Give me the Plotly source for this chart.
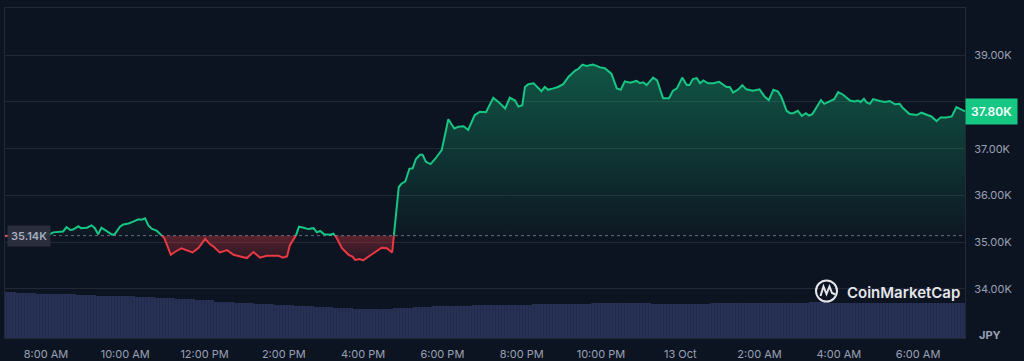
import plotly.graph_objects as go
import numpy as np
import pandas as pd

# ---------------- data ----------------
TIMES = [
    "10-12 06:58", "10-12 07:21", "10-12 07:43", "10-12 08:06", "10-12 08:11", "10-12 08:26", "10-12 08:31",
    "10-12 08:37", "10-12 08:41", "10-12 08:49", "10-12 08:53", "10-12 09:02", "10-12 09:09", "10-12 09:14",
    "10-12 09:19", "10-12 09:24", "10-12 09:32", "10-12 09:40", "10-12 09:44", "10-12 09:52", "10-12 09:57",
    "10-12 10:05", "10-12 10:12", "10-12 10:20", "10-12 10:25", "10-12 10:30", "10-12 10:35", "10-12 10:40",
    "10-12 10:48", "10-12 10:59", "10-12 11:09", "10-12 11:15", "10-12 11:25", "10-12 11:33", "10-12 11:42",
    "10-12 11:51", "10-12 12:01", "10-12 12:08", "10-12 12:14", "10-12 12:23", "10-12 12:34", "10-12 12:44",
    "10-12 13:04", "10-12 13:14", "10-12 13:24", "10-12 13:34", "10-12 13:52", "10-12 13:59", "10-12 14:05",
    "10-12 14:09", "10-12 14:17", "10-12 14:23", "10-12 14:30", "10-12 14:37", "10-12 14:45", "10-12 14:50",
    "10-12 14:55", "10-12 15:01", "10-12 15:10", "10-12 15:15", "10-12 15:20", "10-12 15:28", "10-12 15:38",
    "10-12 15:44", "10-12 15:48", "10-12 15:55", "10-12 16:00", "10-12 16:10", "10-12 16:21", "10-12 16:28",
    "10-12 16:36", "10-12 16:44", "10-12 16:54", "10-12 16:58", "10-12 17:04", "10-12 17:10", "10-12 17:15",
    "10-12 17:20", "10-12 17:26", "10-12 17:30", "10-12 17:35", "10-12 17:42", "10-12 17:49", "10-12 17:59",
    "10-12 18:09", "10-12 18:18", "10-12 18:24", "10-12 18:32", "10-12 18:39", "10-12 18:49", "10-12 18:57",
    "10-12 19:06", "10-12 19:17", "10-12 19:27", "10-12 19:35", "10-12 19:42", "10-12 19:50", "10-12 19:55",
    "10-12 20:01", "10-12 20:05", "10-12 20:10", "10-12 20:18", "10-12 20:30", "10-12 20:35", "10-12 20:40",
    "10-12 20:48", "10-12 20:55", "10-12 21:03", "10-12 21:11", "10-12 21:21", "10-12 21:26", "10-12 21:32",
    "10-12 21:38", "10-12 21:48", "10-12 21:59", "10-12 22:06", "10-12 22:16", "10-12 22:24", "10-12 22:30",
    "10-12 22:36", "10-12 22:44", "10-12 22:54", "10-12 22:59", "10-12 23:04", "10-12 23:09", "10-12 23:19",
    "10-12 23:25", "10-12 23:34", "10-12 23:43", "10-12 23:49", "10-12 23:55", "10-13 00:03", "10-13 00:10",
    "10-13 00:14", "10-13 00:19", "10-13 00:25", "10-13 00:30", "10-13 00:35", "10-13 00:42", "10-13 00:50",
    "10-13 00:59", "10-13 01:10", "10-13 01:15", "10-13 01:20", "10-13 01:28", "10-13 01:34", "10-13 01:40",
    "10-13 01:50", "10-13 02:00", "10-13 02:08", "10-13 02:14", "10-13 02:21", "10-13 02:28", "10-13 02:33",
    "10-13 02:41", "10-13 02:46", "10-13 02:51", "10-13 02:58", "10-13 03:04", "10-13 03:10", "10-13 03:15",
    "10-13 03:20", "10-13 03:26", "10-13 03:33", "10-13 03:38", "10-13 03:45", "10-13 03:53", "10-13 03:59",
    "10-13 04:06", "10-13 04:17", "10-13 04:24", "10-13 04:29", "10-13 04:33", "10-13 04:38", "10-13 04:42",
    "10-13 04:47", "10-13 04:52", "10-13 05:02", "10-13 05:10", "10-13 05:17", "10-13 05:25", "10-13 05:32",
    "10-13 05:37", "10-13 05:47", "10-13 05:58", "10-13 06:05", "10-13 06:15", "10-13 06:20", "10-13 06:28",
    "10-13 06:34", "10-13 06:43", "10-13 06:51", "10-13 06:58", "10-13 07:06", "10-13 07:11",
]
PRICES = [  # thousands of JPY
    35.13, 35.15, 35.16, 35.17, 35.21, 35.23, 35.32,
    35.26, 35.27, 35.34, 35.30, 35.31, 35.36, 35.30,
    35.17, 35.31, 35.23, 35.16, 35.17, 35.33, 35.38,
    35.40, 35.44, 35.49, 35.48, 35.51, 35.36, 35.29,
    35.24, 35.09, 34.73, 34.79, 34.87, 34.83, 34.78,
    34.88, 35.07, 34.96, 34.90, 34.78, 34.83, 34.73,
    34.66, 34.79, 34.67, 34.71, 34.71, 34.67, 34.70,
    34.93, 35.09, 35.33, 35.31, 35.28, 35.30, 35.21,
    35.24, 35.17, 35.16, 35.18, 35.09, 34.87, 34.73,
    34.69, 34.62, 34.64, 34.61, 34.71, 34.81, 34.88,
    34.87, 34.78, 36.18, 36.25, 36.30, 36.57, 36.58,
    36.78, 36.87, 36.87, 36.72, 36.67, 36.78, 36.97,
    37.63, 37.43, 37.47, 37.48, 37.40, 37.72, 37.79,
    37.78, 38.09, 37.97, 37.86, 38.09, 38.03, 37.90,
    37.93, 38.32, 38.38, 38.40, 38.23, 38.32, 38.26,
    38.29, 38.32, 38.38, 38.54, 38.67, 38.71, 38.80,
    38.77, 38.80, 38.74, 38.72, 38.60, 38.29, 38.26,
    38.44, 38.41, 38.45, 38.40, 38.42, 38.36, 38.52,
    38.46, 38.08, 38.08, 38.24, 38.29, 38.52, 38.36,
    38.36, 38.49, 38.51, 38.40, 38.46, 38.40, 38.40,
    38.43, 38.32, 38.32, 38.20, 38.27, 38.36, 38.27,
    38.24, 38.27, 38.11, 38.04, 38.26, 38.22, 38.11,
    37.81, 37.76, 37.76, 37.81, 37.70, 37.76, 37.71,
    37.74, 37.89, 38.04, 37.96, 38.00, 38.06, 38.21,
    38.16, 38.03, 38.01, 38.03, 38.00, 38.07, 37.99,
    37.96, 38.06, 38.02, 38.00, 38.02, 37.95, 37.96,
    37.87, 37.74, 37.72, 37.77, 37.72, 37.69, 37.59,
    37.67, 37.67, 37.69, 37.89, 37.83, 37.80,
]
OPEN_PRICE = 35.14
LAST_PRICE = 37.80

VOLUME_START = "2024-10-12 07:00"   # 30-minute bars
VOLUME = [
    2.28, 2.25, 2.22, 2.19, 2.16, 2.12, 2.08, 2.03, 1.98, 1.93,
    1.88, 1.82, 1.77, 1.71, 1.64, 1.59, 1.54, 1.49, 1.46, 1.43,
    1.48, 1.54, 1.58, 1.61, 1.64, 1.66, 1.67, 1.68, 1.69, 1.71,
    1.75, 1.76, 1.75, 1.72, 1.71, 1.72, 1.73, 1.73, 1.74, 1.75,
    1.76, 1.78, 1.77, 1.74, 1.73, 1.73, 1.73, 1.73, 1.73,
]

Y_TICKS = [34, 35, 36, 37, 38, 39]
Y_TICK_TEXT = ["34.00K", "35.00K", "36.00K", "37.00K", "", "39.00K"]
X_TICKS = ["2024-10-12 08:00", "2024-10-12 10:00", "2024-10-12 12:00", "2024-10-12 14:00",
           "2024-10-12 16:00", "2024-10-12 18:00", "2024-10-12 20:00", "2024-10-12 22:00",
           "2024-10-13 00:00", "2024-10-13 02:00", "2024-10-13 04:00", "2024-10-13 06:00"]
X_TICK_TEXT = ["8:00 AM", "10:00 AM", "12:00 PM", "2:00 PM", "4:00 PM", "6:00 PM",
               "8:00 PM", "10:00 PM", "13 Oct", "2:00 AM", "4:00 AM", "6:00 AM"]
X_RANGE = ["2024-10-12 06:58", "2024-10-13 07:11"]

# ---------------- styles ----------------
BG = "#0d1421"
GRID = "rgba(255,255,255,0.09)"
TXT = "#9aa1b5"
GREEN = "#16c784"
RED = "#ea3943"
VOL = "#273055"

# ---------------- processing ----------------
t = pd.to_datetime(["2024-" + s for s in TIMES])
p = np.array(PRICES, dtype=float)
tn = t.asi8.astype(float)
base = OPEN_PRICE

xs, ys = [tn[0]], [p[0]]
for i in range(1, len(p)):
    a, b = p[i - 1] - base, p[i] - base
    if a * b < 0:
        f = a / (a - b)
        xs.append(tn[i - 1] + f * (tn[i] - tn[i - 1]))
        ys.append(base)
    xs.append(tn[i])
    ys.append(p[i])
xt = pd.to_datetime(np.array(xs).astype("int64"))
ys = np.array(ys)

up = np.maximum(ys, base)
dn = np.minimum(ys, base)
green_line = np.where(ys >= base, ys, np.nan)
red_line = np.where(ys <= base, ys, np.nan)
base_arr = np.full(len(ys), base)

vol_t = pd.date_range(VOLUME_START, periods=len(VOLUME), freq="30min")

fig = go.Figure()

fig.add_trace(go.Bar(
    x=vol_t, y=VOLUME, yaxis="y2", width=30 * 60 * 1000,
    marker=dict(color=VOL, line=dict(width=0),
                pattern=dict(shape="|", size=3, solidity=0.25,
                             fgcolor="#212948", bgcolor=VOL, fillmode="replace")),
    hoverinfo="skip",
))

fig.add_trace(go.Scatter(x=xt, y=base_arr, mode="lines", line=dict(width=0), hoverinfo="skip"))
fig.add_trace(go.Scatter(
    x=xt, y=up, mode="lines", line=dict(width=0), fill="tonexty",
    fillgradient=dict(type="vertical",
                      colorscale=[[0, "rgba(22,199,132,0.02)"], [1, "rgba(22,199,132,0.36)"]]),
    hoverinfo="skip"))
fig.add_trace(go.Scatter(x=xt, y=base_arr, mode="lines", line=dict(width=0), hoverinfo="skip"))
fig.add_trace(go.Scatter(
    x=xt, y=dn, mode="lines", line=dict(width=0), fill="tonexty",
    fillgradient=dict(type="vertical",
                      colorscale=[[0, "rgba(234,57,67,0.10)"], [1, "rgba(234,57,67,0.36)"]]),
    hoverinfo="skip"))

fig.add_trace(go.Scatter(x=xt, y=green_line, mode="lines",
                         line=dict(color=GREEN, width=2), hoverinfo="skip"))
fig.add_trace(go.Scatter(x=xt, y=red_line, mode="lines",
                         line=dict(color=RED, width=2), hoverinfo="skip"))

# baseline
fig.add_shape(type="line", xref="paper", x0=0, x1=1, yref="y", y0=base, y1=base,
              line=dict(color="rgba(170,178,196,0.55)", width=1, dash="dot"), layer="above")


# watermark logo
def px_x(x):
    return (x - 5) / 960.0


def px_y(y):
    return (338 - y) / 330.0


fig.add_shape(type="circle", xref="paper", yref="paper",
              x0=px_x(816), x1=px_x(837), y0=px_y(301.5), y1=px_y(280.5),
              line=dict(color="#e4e6ec", width=2))
pts = [(820.5, 296), (823.5, 286.5), (826.5, 294), (829.5, 286.5), (832, 293), (835.5, 294.5)]
path = "M " + " L ".join(f"{px_x(a):.5f},{px_y(b):.5f}" for a, b in pts)
fig.add_shape(type="path", xref="paper", yref="paper", path=path,
              line=dict(color="#e4e6ec", width=2))

fig.add_annotation(xref="paper", yref="paper", x=px_x(845), y=px_y(292.5),
                   xanchor="left", yanchor="middle", showarrow=False,
                   text="CoinMarketCap",
                   font=dict(family="Inter", size=15, color="#e4e6ec", weight=600))

# price labels
fig.add_annotation(xref="paper", yref="y", x=px_x(29), y=base, xanchor="center", yanchor="middle",
                   showarrow=False, text=f"{OPEN_PRICE:.2f}K",
                   font=dict(family="Inter", size=11, color="#a6adc0", weight=600),
                   bgcolor="rgba(44,48,62,0.92)", borderpad=3)
fig.add_annotation(xref="paper", yref="y", x=1, y=LAST_PRICE, xanchor="left", yanchor="middle",
                   showarrow=False, text=f"{LAST_PRICE:.2f}K",
                   font=dict(family="Inter", size=12, color="#ffffff", weight=600),
                   bgcolor=GREEN, borderpad=5)
fig.add_annotation(xref="paper", yref="paper", x=px_x(990), y=px_y(335), xanchor="center",
                   yanchor="middle", showarrow=False, text="JPY",
                   font=dict(family="Inter", size=11, color=TXT, weight=700))

fig.update_layout(
    width=1024, height=361,
    margin=dict(l=5, r=59, t=8, b=23, autoexpand=False),
    paper_bgcolor=BG, plot_bgcolor=BG,
    showlegend=False,
    font=dict(family="Inter", size=11, color=TXT),
    bargap=0,
    xaxis=dict(type="date", range=X_RANGE, tickvals=X_TICKS, ticktext=X_TICK_TEXT,
               showgrid=False, zeroline=False, showline=True, mirror=True, automargin=False,
               linecolor=GRID, linewidth=1, ticks="", ticklabelstandoff=6,
               tickfont=dict(size=11, color=TXT)),
    yaxis=dict(side="right", range=[32.95, 40.01], tickvals=Y_TICKS, ticktext=Y_TICK_TEXT,
               showgrid=True, gridcolor=GRID, gridwidth=1, zeroline=False, automargin=False,
               showline=True, mirror=True, linecolor=GRID, linewidth=1,
               ticks="", ticklabelstandoff=6, tickfont=dict(size=11, color=TXT)),
    yaxis2=dict(overlaying="y", range=[0, 16.5], visible=False, fixedrange=True, automargin=False),
)

fig.write_html(
    "out.html",
    config={"displayModeBar": False},
    post_script="document.body.style.margin='0';document.body.style.overflow='hidden';",
)
